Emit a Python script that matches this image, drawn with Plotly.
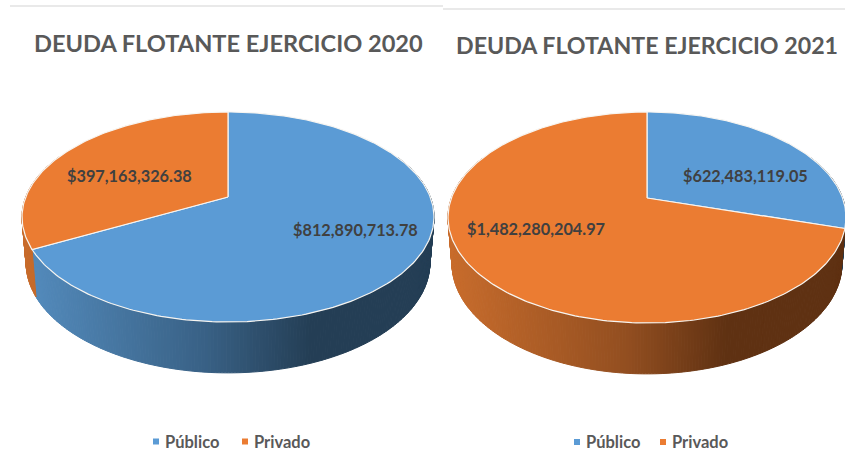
import math
import plotly.graph_objects as go

categories = ["Público", "Privado"]
values_2020 = [812890713.78, 397163326.38]
values_2021 = [622483119.05, 1482280204.97]
titles = ["DEUDA FLOTANTE EJERCICIO 2020", "DEUDA FLOTANTE EJERCICIO 2021"]
top_colors = {"Público": "#5B9BD5", "Privado": "#EB7C32"}

# side-wall shading, left to right across each pie (fraction of width, colour)
wall_stops = {
    "Público": [(0, (84, 140, 190)), (0.45, (56, 96, 132)), (0.70, (36, 62, 85)), (1, (36, 62, 85))],
    "Privado": [(0, (200, 108, 44)), (0.45, (146, 78, 32)), (0.70, (95, 49, 18)), (1, (95, 49, 18))],
}

# pie geometry in page pixels: vertex x, vertex y, top y, bottom y, half width
pies = [
    dict(cx=228, cy=197, top=112, bottom=322, half=206, values=values_2020),
    dict(cx=647, cy=198, top=112, bottom=323, half=199, values=values_2021),
]
label_pos = [[(355, 229), (129, 175)], [(745, 175), (536, 228)]]
title_pos = [(228, 43), (646.5, 45)]
title_size = [23.6, 23.2]
legend_pos = [[(156, 441.5), (245, 441.5)], [(577, 442), (663, 442)]]
WALL_SX, WALL_SY, WALL_D = 0.98, 1.047, 45


def lerp_color(stops, t):
    t = max(0, min(1, t))
    for (t0, c0), (t1, c1) in zip(stops, stops[1:]):
        if t <= t1:
            f = (t - t0) / (t1 - t0)
            c = [round(a + (b - a) * f) for a, b in zip(c0, c1)]
            return f"rgb({c[0]},{c[1]},{c[2]})"
    return "rgb(%d,%d,%d)" % stops[-1][1]


def projector(p):
    up, down = p["cy"] - p["top"], p["bottom"] - p["cy"]
    k = (down - up) / (down + up)
    b = up * (1 + k)
    a = p["half"] * math.sqrt(1 - k * k)

    def proj(deg):
        r = math.radians(deg)
        u, v = math.sin(r), math.cos(r)
        w = 1 + k * v
        return a * u / w, -b * v / w
    return proj


fig = go.Figure()

for p in pies:
    proj = projector(p)
    total = sum(p["values"])
    start = 0.0
    spans = []
    for cat, val in zip(categories, p["values"]):
        end = start + 360 * val / total
        spans.append((cat, start, end))
        start = end

    # side walls, drawn first so the top face hides what lies behind it
    for cat, a0, a1 in spans:
        n = max(2, int((a1 - a0) / 0.75))
        for i in range(n):
            s0 = a0 + (a1 - a0) * i / n
            s1 = a0 + (a1 - a0) * (i + 1) / n
            mid = (s0 + s1) / 2
            if 65 < mid < 295:
                xs, ys = [], []
                for s in (s0, s1):
                    X, Y = proj(s)
                    xs.append(p["cx"] + X)
                    ys.append(p["cy"] + Y)
                for s in (s1, s0):
                    X, Y = proj(s)
                    xs.append(p["cx"] + X * WALL_SX)
                    ys.append(p["cy"] + Y * WALL_SY + WALL_D)
                Xm, _ = proj(mid)
                t = (Xm + p["half"]) / (2 * p["half"])
                col = lerp_color(wall_stops[cat], t)
                fig.add_trace(go.Scatter(
                    x=xs + xs[:1], y=ys + ys[:1], mode="lines", fill="toself",
                    fillcolor=col, line=dict(color=col, width=1),
                    hoverinfo="skip", showlegend=False))

    # top faces
    for cat, a0, a1 in spans:
        n = max(2, int(a1 - a0))
        xs, ys = [p["cx"]], [p["cy"]]
        for i in range(n + 1):
            X, Y = proj(a0 + (a1 - a0) * i / n)
            xs.append(p["cx"] + X)
            ys.append(p["cy"] + Y)
        xs.append(p["cx"])
        ys.append(p["cy"])
        fig.add_trace(go.Scatter(
            x=xs, y=ys, mode="lines", fill="toself", fillcolor=top_colors[cat],
            line=dict(color="#F7F5F1", width=1.2), name=cat,
            hoverinfo="skip", showlegend=False))

# legend keys
for keys in legend_pos:
    for cat, (kx, ky) in zip(categories, keys):
        fig.add_trace(go.Scatter(
            x=[kx], y=[ky], mode="markers", name=cat, showlegend=False,
            marker=dict(symbol="square", size=6, color=top_colors[cat])))

annotations = []
for p, labels, title, tp, ts in zip(pies, label_pos, titles, title_pos, title_size):
    for val, (lx, ly) in zip(p["values"], labels):
        annotations.append(dict(
            x=lx, y=ly, xref="x", yref="y", text=f"${val:,.2f}", showarrow=False,
            font=dict(family="Lato", size=16.3, color="#404040", weight="bold")))
    annotations.append(dict(
        x=tp[0], y=tp[1], xref="x", yref="y", text=title, showarrow=False,
        font=dict(family="Lato", size=ts, color="#595959", weight="bold")))

for keys in legend_pos:
    for cat, (kx, ky) in zip(categories, keys):
        annotations.append(dict(
            x=kx + 9, y=ky, xref="x", yref="y", text=cat, showarrow=False,
            xanchor="left", xshift=-2,
            font=dict(family="Lato", size=16.5, color="#595959", weight="bold")))

fig.update_layout(
    width=845, height=468, autosize=False,
    margin=dict(l=0, r=0, t=0, b=0),
    paper_bgcolor="white", plot_bgcolor="white",
    showlegend=False,
    xaxis=dict(range=[0, 845], visible=False, fixedrange=True),
    yaxis=dict(range=[468, 0], visible=False, fixedrange=True),
    annotations=annotations,
    shapes=[
        dict(type="line", xref="x", yref="y", x0=10, x1=443, y0=6, y1=6,
             line=dict(color="#E2E2E2", width=1.5)),
        dict(type="line", xref="x", yref="y", x0=443, x1=845, y0=9, y1=9,
             line=dict(color="#E2E2E2", width=1.5)),
    ],
)

fig.write_html("out.html", config={"displayModeBar": False},
               post_script="document.body.style.margin='0';document.documentElement.style.overflow='hidden';")
